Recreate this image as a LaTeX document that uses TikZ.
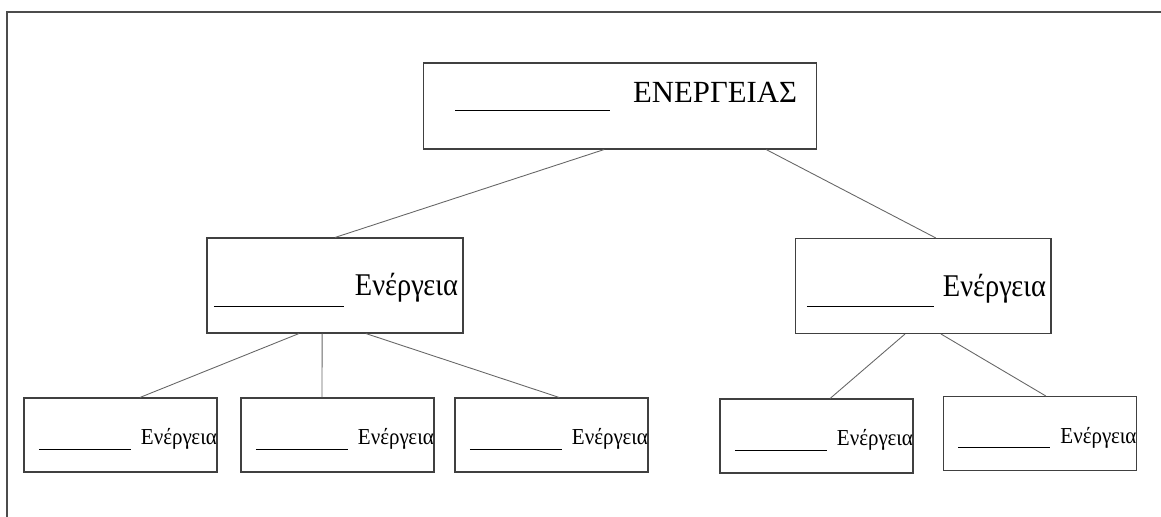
\documentclass[tikz,border=0pt]{standalone}
\usepackage{fontspec}
\setmainfont{Liberation Serif}
\newfontfamily\midserif[FakeStretch=0.9]{Liberation Serif}
\newfontfamily\smallserif[FakeStretch=0.92]{Liberation Serif}
\usetikzlibrary{calc}

\begin{document}
\begin{tikzpicture}[x=0.02cm,y=-0.02cm,
  box/.style={draw=black!75,line width=0.6pt,align=right,inner ysep=0pt},
  bigbox/.style={box,minimum height=1.72cm,text width=7.08cm,inner xsep=0.4cm,
    text height=0pt,text depth=0.12cm,font=\fontsize{17.5}{20}\selectfont},
  midbox/.style={box,minimum height=1.9cm,text width=4.92cm,inner xsep=0.1cm,
    text height=0.42cm,text depth=0pt,font=\midserif\fontsize{18}{20}\selectfont},
  smallbox/.style={box,minimum height=1.48cm,text width=3.86cm,inner xsep=0pt,
    text height=0.4cm,text depth=0pt,font=\smallserif\fontsize{13}{15}\selectfont},
  link/.style={draw=black!60,line width=0.5pt}]
\useasboundingbox (0,0) rectangle (1161,517);
\draw[black!70,line width=1pt] (7,517) -- (7,12) -- (1161,12);

\node[bigbox] (energy) at (620,106) {\rule[-0.16cm]{3.1cm}{0.6pt}\hspace{0.46cm}ΕΝΕΡΓΕΙΑΣ};
\node[midbox] (left) at (335,285.5) {\rule[-0.22cm]{2.6cm}{0.6pt}\hspace{0.22cm}Ενέργεια};
\node[midbox] (right) at (923,286) {\rule[-0.22cm]{2.54cm}{0.6pt}\hspace{0.18cm}Ενέργεια};

\foreach \n/\x/\y in {1/120.5/435, 2/337.5/435, 3/551.5/435, 4/816.5/436, 5/1040/433.5}
  \node[smallbox] (b\n) at (\x,\y) {\rule[-0.1cm]{1.84cm}{0.6pt}\hspace{0.2cm}Ενέργεια};

\draw[link] ($(energy.south west)!0.46!(energy.south east)$) -- (left.north);
\draw[link] ($(energy.south west)!0.87!(energy.south east)$) -- ($(right.north west)!0.55!(right.north east)$);
\foreach \a/\n/\b in {0.36/1/0.6, 0.45/2/0.42, 0.62/3/0.54}
  \draw[link] ($(left.south west)!\a!(left.south east)$) -- ($(b\n.north west)!\b!(b\n.north east)$);
\foreach \a/\n/\b in {0.43/4/0.57, 0.57/5/0.53}
  \draw[link] ($(right.south west)!\a!(right.south east)$) -- ($(b\n.north west)!\b!(b\n.north east)$);
\end{tikzpicture}
\end{document}
